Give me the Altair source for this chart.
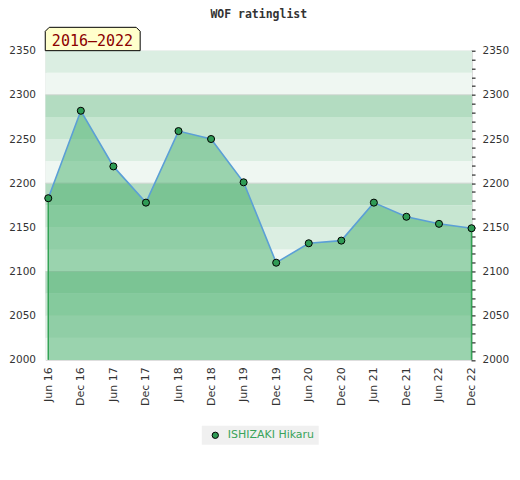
import altair as alt
import pandas as pd

# ---- data ----
periods = ["Jun 16", "Dec 16", "Jun 17", "Dec 17", "Jun 18", "Dec 18", "Jun 19",
           "Dec 19", "Jun 20", "Dec 20", "Jun 21", "Dec 21", "Jun 22", "Dec 22"]
ratings = [2183, 2282, 2219, 2178, 2259, 2250, 2201,
           2110, 2132, 2135, 2178, 2162, 2154, 2149]
player = "ISHIZAKI Hikaru"
span_label = "2016–2022"
y_labels = [2000, 2050, 2100, 2150, 2200, 2250, 2300, 2350]
y_minor = [2000 + 10 * i for i in range(36)]
band_lo = [2000, 2025, 2050, 2075, 2100, 2125, 2150, 2175, 2200, 2225, 2250, 2275, 2300, 2325]
band_hi = [2025, 2050, 2075, 2100, 2125, 2150, 2175, 2200, 2225, 2250, 2275, 2300, 2325, 2350]
band_shade = [0, 1, 2, 3, 0, 1, 2, 3, 0, 1, 2, 3, 0, 1]
grid_values = [2100, 2200, 2300]

df = pd.DataFrame({"period": periods, "rating": ratings, "player": [player] * len(periods)})
edges = pd.DataFrame({"period": [periods[0], periods[-1]], "rating": [ratings[0], ratings[-1]]})
bands = pd.DataFrame({"lo": band_lo, "hi": band_hi, "shade": band_shade})
grid = pd.DataFrame({"v": grid_values})
box = pd.DataFrame({"label": [span_label]})

W, H = 427, 309.5
yscale = alt.Scale(domain=[2000, 2350], nice=False, zero=False)
xenc = alt.X("period:N", sort=periods,
             scale=alt.Scale(type="point", padding=0.0506, align=0.85),
             axis=alt.Axis(title=None, labelAngle=270, ticks=False, domain=False,
                           labelPadding=7, labelFont="DejaVu Sans", labelFontSize=11,
                           labelColor="#333333", grid=False))

band_layer = alt.Chart(bands).mark_rect().encode(
    y=alt.Y("lo:Q", scale=yscale,
            axis=alt.Axis(orient="left", values=y_labels, title=None, ticks=False,
                          domain=False, grid=False, labelPadding=10, format="d",
                          labelFont="DejaVu Sans", labelFontSize=10.5,
                          labelColor="#333333")),
    y2="hi:Q",
    fill=alt.Fill("shade:O", scale=alt.Scale(domain=[0, 1, 2, 3],
                  range=["#eff7f2", "#dbeee2", "#c7e6d1", "#b3dcc1"]), legend=None),
)

grid_layer = alt.Chart(grid).mark_rule(color="#c9d3cc", strokeWidth=1).encode(
    y=alt.Y("v:Q", scale=yscale, axis=None)
)

area_layer = alt.Chart(df).mark_area(color="#3caa61", opacity=0.47).encode(
    x=xenc,
    y=alt.Y("rating:Q", scale=yscale, axis=None),
    y2=alt.datum(2000),
)

edge_layer = alt.Chart(edges).mark_rule(color="#34a356", strokeWidth=1.5).encode(
    x=xenc,
    y=alt.Y("rating:Q", scale=yscale, axis=None),
    y2=alt.datum(2000),
)

line_layer = alt.Chart(df).mark_line(color="#5b9fd6", strokeWidth=1.6).encode(
    x=xenc,
    y=alt.Y("rating:Q", scale=yscale, axis=None),
)

point_layer = alt.Chart(df).mark_circle(size=50, opacity=1, stroke="black", strokeWidth=1).encode(
    x=xenc,
    y=alt.Y("rating:Q", scale=yscale,
            axis=alt.Axis(orient="right", values=y_minor, title=None, format="d",
                          labelExpr="datum.value % 50 == 0 ? datum.label : ''",
                          ticks=True, tickColor="black", tickSize=4, tickWidth=1,
                          offset=-1, domain=False, grid=False, labelPadding=7,
                          labelFont="DejaVu Sans", labelFontSize=10.5,
                          labelColor="#333333", labelOverlap=False)),
    color=alt.Color("player:N", scale=alt.Scale(range=["#2f9b55"]),
                    legend=alt.Legend(title=None, orient="none", legendX=156.5, legendY=375.5,
                                      fillColor="#f0f0f0", padding=4, symbolOffset=4,
                                      labelOffset=7, symbolType="circle", symbolSize=40,
                                      symbolStrokeColor="black", symbolStrokeWidth=1,
                                      labelColor="#3aa35a", labelFont="DejaVu Sans",
                                      labelFontSize=11)),
)

box_layer = alt.Chart(box).mark_point(
    shape="M -1 0.246 L -1 -0.162 L -0.916 -0.246 L 0.916 -0.246 L 1 -0.162 L 1 0.246 Z",
    size=9025, filled=True, fill="#ffffcc", stroke="black", strokeWidth=1, opacity=1,
).encode(x=alt.value(47.3), y=alt.value(-11.7))

box_text = alt.Chart(box).mark_text(
    font="DejaVu Sans Mono", fontSize=15, color="#8b0000", baseline="alphabetic", align="center"
).encode(x=alt.value(47), y=alt.value(-5), text="label:N")

chart = alt.layer(
    band_layer, grid_layer, area_layer, edge_layer, line_layer, point_layer, box_layer, box_text
).resolve_axis(y="independent").properties(
    width=W, height=H,
    title=alt.Title("WOF ratinglist", font="DejaVu Sans Mono", fontSize=11.5,
                    fontWeight="bold", color="#333333", frame="group", anchor="middle",
                    offset=5),
    autosize=alt.AutoSizeParams(type="none"),
    padding={"left": 37.5, "top": 42.5, "right": 40, "bottom": 100},
).configure_view(stroke="#d9d9d9", strokeWidth=1)

chart.save("out.html", embed_options={"renderer": "svg", "actions": False})
